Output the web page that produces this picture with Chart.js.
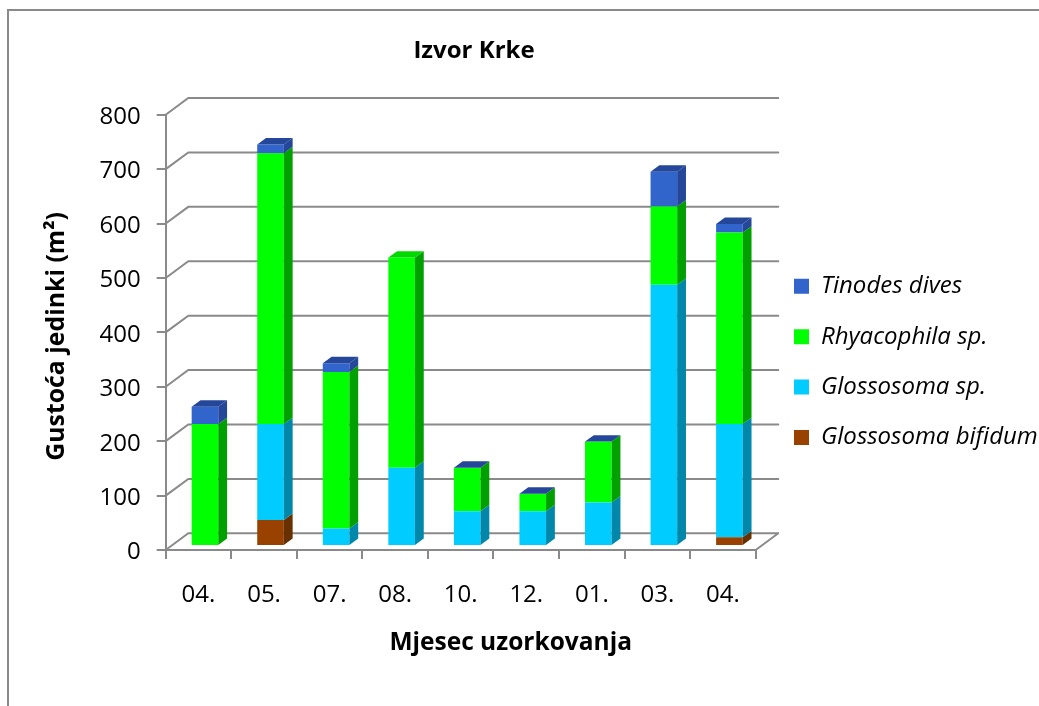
<!DOCTYPE html>
<html>
<head>
<meta charset="utf-8">
<style>html,body{margin:0;padding:0;background:#fff}canvas{display:block}</style>
<script src="https://cdn.jsdelivr.net/npm/chart.js@4"></script>
</head>
<body>
<canvas id="c" width="1039" height="706"></canvas>
<script>
const categories = ['04.', '05.', '07.', '08.', '10.', '12.', '01.', '03.', '04.'];
const glossosomaBifidum = [null, 48, null, null, null, null, null, null, 16];
const glossosomaSp = [null, 176, 32, 144, 64, 64, 80, 480, 208];
const rhyacophilaSp = [224, 498, 288, 386, 80, 32, 112, 144, 352];
const tinodesDives = [32, 16, 16, null, 0, 0, 0, 64, 16];

const FONT = '"Open Sans", sans-serif';
const GRID = '#8a8a8a';
const wallDepth = {x: 22.6, y: 16.7};
const barOffset = {x: 6.5, y: 4};
const barDepth = {x: 8.8, y: 6.4};
const frontColors = ['#994200', '#00CCFF', '#00FF00', '#3265CB'];
const sideColors = ['#663000', '#0087AA', '#00A000', '#24479A'];
const topColors = ['#7A3500', '#00A8D0', '#00D800', '#24479A'];
const seriesNames = ['Glossosoma bifidum', 'Glossosoma sp.', 'Rhyacophila sp.', 'Tinodes dives'];
const seriesValues = [glossosomaBifidum, glossosomaSp, rhyacophilaSp, tinodesDives];

const depthPlugin = {
  id: 'depth',
  beforeDraw(chart) {
    const ctx = chart.ctx;
    ctx.save();
    ctx.strokeStyle = GRID;
    ctx.lineWidth = 2;
    ctx.beginPath();
    ctx.moveTo(chart.width, 10);
    ctx.lineTo(8, 10);
    ctx.lineTo(8, chart.height);
    ctx.stroke();
    ctx.restore();
  },
  afterLayout(chart) {
    const t = chart.titleBlock;
    t.left = 274; t.right = 674; t.top = 36.6; t.bottom = 66;
    const l = chart.legend;
    const pad = l.options.labels.padding;
    const fs = l.options.labels.font.size;
    l.left = 794 - pad; l.right = 1039 + 200;
    l.top = 286.3 - fs / 2 - pad; l.bottom = 706;
    const shift = (s, dx, dy) => {
      if (s._patched) return;
      s._patched = true;
      const orig = s.drawTitle;
      s.drawTitle = function () {
        this.ctx.save();
        this.ctx.translate(dx, dy);
        orig.call(this);
        this.ctx.restore();
      };
    };
    shift(chart.scales.x, 50, 0);
    shift(chart.scales.y, 0, 4);
  },
  beforeDatasetsDraw(chart) {
    const ctx = chart.ctx, a = chart.chartArea, y = chart.scales.y;
    ctx.save();
    ctx.strokeStyle = GRID;
    ctx.lineWidth = 2;
    ctx.lineCap = 'round';
    ctx.beginPath();
    y.ticks.forEach(t => {
      const py = y.getPixelForValue(t.value);
      ctx.moveTo(a.left, py);
      ctx.lineTo(a.left + wallDepth.x, py - wallDepth.y);
      ctx.lineTo(a.right + wallDepth.x, py - wallDepth.y);
    });
    ctx.moveTo(a.right, a.bottom);
    ctx.lineTo(a.right + wallDepth.x, a.bottom - wallDepth.y);
    ctx.stroke();
    ctx.restore();
    ctx.save();
    ctx.translate(barOffset.x, -barOffset.y);
  },
  afterDatasetsDraw(chart) {
    const ctx = chart.ctx;
    const dx = barDepth.x, dy = barDepth.y;
    categories.forEach((_, i) => {
      let topDs = -1;
      seriesValues.forEach((vals, d) => {
        if (vals[i] === null) return;
        topDs = d;
        if (vals[i] === 0) return;
        const el = chart.getDatasetMeta(d).data[i];
        const r = el.x + el.width / 2;
        ctx.fillStyle = sideColors[d];
        ctx.beginPath();
        ctx.moveTo(r, el.y);
        ctx.lineTo(r + dx, el.y - dy);
        ctx.lineTo(r + dx, el.base - dy);
        ctx.lineTo(r, el.base);
        ctx.closePath();
        ctx.fill();
      });
      if (topDs >= 0) {
        const el = chart.getDatasetMeta(topDs).data[i];
        const l = el.x - el.width / 2, r = el.x + el.width / 2;
        ctx.fillStyle = topColors[topDs];
        ctx.beginPath();
        ctx.moveTo(l, el.y);
        ctx.lineTo(l + dx, el.y - dy);
        ctx.lineTo(r + dx, el.y - dy);
        ctx.lineTo(r, el.y);
        ctx.closePath();
        ctx.fill();
      }
    });
    ctx.restore();
  }
};

new Chart(document.getElementById('c'), {
  type: 'bar',
  plugins: [depthPlugin],
  data: {
    labels: categories,
    datasets: seriesNames.map((name, d) => ({
      label: name,
      data: seriesValues[d],
      backgroundColor: frontColors[d],
      borderWidth: 0,
      barPercentage: 0.406,
      categoryPercentage: 1
    }))
  },
  options: {
    responsive: false,
    animation: false,
    layout: {padding: {left: 0, top: 85.9, right: 283.3, bottom: 0}},
    plugins: {
      tooltip: {enabled: false},
      title: {
        display: true,
        text: 'Izvor Krke',
        color: '#000',
        font: {family: FONT, size: 24, weight: 'bold', lineHeight: 1.2},
        padding: 0
      },
      legend: {
        position: 'chartArea',
        align: 'start',
        reverse: true,
        labels: {
          color: '#000',
          font: {family: FONT, size: 24, style: 'italic'},
          boxWidth: 15,
          boxHeight: 15,
          padding: 26.4
        }
      }
    },
    scales: {
      x: {
        stacked: true,
        afterFit: s => { s.height = 156; },
        grid: {offset: true, drawOnChartArea: false, color: GRID, lineWidth: 2, tickLength: 9, tickColor: GRID, tickWidth: 2},
        border: {color: GRID, width: 2},
        ticks: {color: '#000', font: {family: FONT, size: 24}, padding: 22, maxRotation: 0},
        title: {
          display: true,
          text: 'Mjesec uzorkovanja',
          color: '#000',
          font: {family: FONT, size: 24.5, weight: 'bold', lineHeight: 1.2},
          padding: {top: 0, bottom: 48.6}
        }
      },
      y: {
        stacked: true,
        min: 0,
        max: 800,
        afterFit: s => { s.width = 165.7; },
        grid: {drawOnChartArea: false, color: GRID, lineWidth: 2, tickLength: 9, tickColor: GRID, tickWidth: 2},
        border: {color: GRID, width: 2},
        ticks: {color: '#000', font: {family: FONT, size: 24}, padding: 16, stepSize: 100, labelOffset: 2.5},
        title: {
          display: true,
          text: 'Gustoća jedinki (m²)',
          color: '#000',
          font: {family: FONT, size: 24.8, weight: 'bold', lineHeight: 1.2},
          padding: {top: 42, bottom: 0}
        }
      }
    }
  }
});
</script>
</body>
</html>
